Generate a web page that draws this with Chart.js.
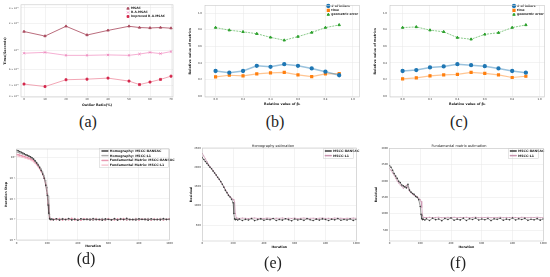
<!DOCTYPE html>
<html><head><meta charset="utf-8">
<script src="https://cdn.jsdelivr.net/npm/chart.js@4/dist/chart.umd.min.js"></script>
<style>
html,body{margin:0;padding:0;background:#fff;width:550px;height:277px;overflow:hidden;}
.box{position:absolute;}
.box canvas{display:block;}
.cap{position:absolute;font-family:"Liberation Serif","DejaVu Serif",serif;font-size:16px;color:#222;transform:translate(-50%,-50%);white-space:nowrap;line-height:1;}
</style></head><body>
<div class="box" style="left:0px;top:0px"><canvas id="ca" width="180" height="112"></canvas></div>
<div class="box" style="left:185px;top:0px"><canvas id="cb" width="180" height="112"></canvas></div>
<div class="box" style="left:370px;top:0px"><canvas id="cc" width="180" height="112"></canvas></div>
<div class="box" style="left:0px;top:140px"><canvas id="cd" width="180" height="120"></canvas></div>
<div class="box" style="left:185px;top:140px"><canvas id="ce" width="180" height="120"></canvas></div>
<div class="box" style="left:370px;top:140px"><canvas id="cf" width="180" height="120"></canvas></div>
<div class="cap" style="left:88px;top:122px">(a)</div>
<div class="cap" style="left:275px;top:122px">(b)</div>
<div class="cap" style="left:459px;top:122px">(c)</div>
<div class="cap" style="left:86px;top:259px">(d)</div>
<div class="cap" style="left:273px;top:263px">(e)</div>
<div class="cap" style="left:458px;top:263px">(f)</div>
<script>
// ---------- (a) data ----------
const aOutlier = [0,10,20,30,40,50,55,60,65,70];
const aMSAC = [0.162,0.144,0.186,0.148,0.167,0.186,0.180,0.178,0.180,0.177];
const aRAMSAC = [0.092,0.094,0.087,0.087,0.088,0.087,0.090,0.094,0.091,0.096];
const aImproved = [0.0411,0.0385,0.046,0.0467,0.048,0.0444,0.0405,0.0433,0.0464,0.0505];
const aXTicks = [0,10,20,30,40,50,60,70];
const aXLabels = ['0','10','20','30','40','50','60','70'];
const aYTicks = [0.03,0.04,0.06,0.1,0.2,0.3];
const aYLabels = ['3 × 10⁻²','4 × 10⁻²','6 × 10⁻²','10⁻¹','2 × 10⁻¹','3 × 10⁻¹'];

// ---------- (b) data ----------
const bBeta = [0.0,0.1,0.2,0.3,0.4,0.5,0.6,0.7,0.8,0.9];
const bInliers = [0.302,0.282,0.302,0.365,0.353,0.385,0.365,0.333,0.294,0.251];
const bTime = [0.232,0.251,0.244,0.267,0.279,0.286,0.255,0.235,0.267,0.271];
const bGeoErr = [0.827,0.796,0.776,0.753,0.709,0.674,0.718,0.768,0.827,0.859];

// ---------- (c) data ----------
const cBeta = [0.0,0.1,0.2,0.3,0.4,0.5,0.6,0.7,0.8,0.9];
const cInliers = [0.302,0.314,0.345,0.357,0.385,0.373,0.361,0.333,0.302,0.282];
const cTime = [0.208,0.220,0.244,0.255,0.262,0.286,0.274,0.255,0.224,0.239];
const cGeoErr = [0.827,0.835,0.796,0.776,0.706,0.686,0.745,0.765,0.827,0.859];

const bcTicks = [0,0.2,0.4,0.6,0.8,1.0];
const bcLabels = ['0.0','0.2','0.4','0.6','0.8','1.0'];

// ---------- (d)(e)(f) iterations ----------
const iters = [0,10,20,30,40,50,60,70,80,90,100,110,120,130,140,150,160,170,180,190,200,205,210,215,220,230,240,
  260,280,300,320,340,360,380,400,420,440,460,480,500,520,540,560,580,600,620,640,660,680,700,720,740,760,780,800,820,840,860,880,900,920,940,960,980,1000];
const iterTicks = [0,200,400,600,800,1000];
const iterLabels = ['0','200','400','600','800','1000'];

// (d) iteration step
const dHomRansac = [2.3,2.15,2.0,1.85,1.7,1.55,1.4,1.3,1.2,1.1,1.0,0.85,0.7,0.56,0.44,0.33,0.24,0.16,0.1,0.045,0.015,0.005,0.002,0.0011,0.98e-3,1.05e-3,
  0.96e-3,1.08e-3,0.93e-3,1.04e-3,0.99e-3,1.11e-3,0.95e-3,1.02e-3,0.91e-3,1.07e-3,0.98e-3,1.03e-3,0.94e-3,1.1e-3,0.97e-3,1.01e-3,0.92e-3,1.06e-3,1.0e-3,0.95e-3,
  1.09e-3,0.93e-3,1.04e-3,0.98e-3,1.12e-3,0.96e-3,1.01e-3,0.94e-3,1.07e-3,0.99e-3,1.03e-3,0.92e-3,1.08e-3,0.97e-3,1.02e-3,0.95e-3,1.1e-3,0.98e-3,1.04e-3];
const dHomL1 = [1.9,1.8,1.7,1.6,1.5,1.42,1.34,1.26,1.18,1.08,0.97,0.85,0.72,0.6,0.48,0.37,0.28,0.2,0.13,0.075,0.035,0.014,0.005,0.0018,0.0011,1.02e-3,
  0.95e-3,1.07e-3,0.99e-3,1.1e-3,0.94e-3,1.03e-3,0.97e-3,1.09e-3,0.93e-3,1.05e-3,1.0e-3,0.96e-3,1.08e-3,0.92e-3,1.04e-3,0.98e-3,1.11e-3,0.95e-3,1.02e-3,0.97e-3,
  1.06e-3,0.94e-3,1.09e-3,1.0e-3,0.96e-3,1.05e-3,0.93e-3,1.08e-3,0.99e-3,1.03e-3,0.95e-3,1.1e-3,0.97e-3,1.01e-3,0.94e-3,1.07e-3,0.98e-3,1.04e-3,0.96e-3];
const dFunRansac = [1.45,1.4,1.33,1.27,1.2,1.14,1.08,1.02,0.96,0.9,0.83,0.73,0.62,0.5,0.4,0.31,0.23,0.16,0.1,0.05,0.018,0.006,0.0022,0.0012,1.0e-3,0.97e-3,
  1.04e-3,0.96e-3,1.09e-3,0.93e-3,1.02e-3,0.98e-3,1.12e-3,0.95e-3,1.01e-3,0.92e-3,1.07e-3,0.99e-3,1.05e-3,0.94e-3,1.1e-3,0.97e-3,1.03e-3,0.91e-3,1.08e-3,1.0e-3,
  0.95e-3,1.06e-3,0.98e-3,1.11e-3,0.93e-3,1.02e-3,0.96e-3,1.09e-3,0.94e-3,1.04e-3,0.99e-3,1.07e-3,0.92e-3,1.03e-3,0.97e-3,1.1e-3,0.95e-3,1.01e-3,1.06e-3];
const dFunL1 = [1.25,1.2,1.15,1.1,1.05,1.0,0.95,0.9,0.85,0.79,0.72,0.63,0.54,0.45,0.36,0.28,0.21,0.15,0.1,0.06,0.025,0.009,0.0032,0.0014,1.04e-3,1.0e-3,
  0.98e-3,1.05e-3,0.95e-3,1.08e-3,1.0e-3,0.94e-3,1.06e-3,0.97e-3,1.03e-3,0.93e-3,1.09e-3,0.99e-3,1.04e-3,0.96e-3,1.07e-3,0.92e-3,1.02e-3,0.98e-3,1.1e-3,0.95e-3,
  1.01e-3,0.97e-3,1.06e-3,0.94e-3,1.08e-3,1.0e-3,0.96e-3,1.04e-3,0.93e-3,1.07e-3,0.99e-3,1.03e-3,0.95e-3,1.09e-3,0.97e-3,1.02e-3,0.94e-3,1.05e-3,1.0e-3];
const dYTicks = [1e-4,1e-3,1e-2,1e-1,1];
const dYLabels = ['10⁻⁴','10⁻³','10⁻²','10⁻¹','10⁰'];

// (e) homography residual
const eRansac = [2250,2200,2150,2100,2050,2000,1960,1900,1850,1800,1740,1690,1630,1560,1480,1400,1340,1270,1230,1170,1080,800,660,640,650,630,
  655,620,648,632,668,615,642,660,625,650,636,671,618,645,628,662,640,612,657,633,649,622,666,638,617,653,629,660,644,619,651,635,667,624,646,631,658,621,648];
const eL1 = [2360,2290,2220,2150,2080,2020,1970,1920,1860,1790,1730,1680,1620,1560,1500,1420,1360,1290,1250,1200,1170,1150,1100,800,690,678,
  672,680,674,669,678,683,671,676,670,681,675,668,679,673,684,670,677,672,680,666,676,682,671,674,679,669,677,683,672,675,670,681,674,678,668,676,673,680,675];
const eYTicks = [500,1000,1500,2000,2500];
const eYLabels = ['500','1000','1500','2000','2500'];

// (f) fundamental matrix residual
const fRansac = [2470,2420,2330,2230,2150,2080,1990,1950,1880,1850,1820,1790,1900,1720,1660,1620,1590,1530,1500,1430,1220,980,850,820,830,810,
  845,795,862,818,840,788,856,825,870,802,834,811,859,792,848,823,866,806,838,815,852,790,843,828,861,800,836,817,868,809,845,822,857,797,833,813,850,804,841];
const fL1 = [2380,2330,2250,2180,2090,2000,1940,1880,1840,1780,1840,1870,1800,1690,1640,1600,1560,1540,1520,1480,1430,1380,1200,950,880,885,
  882,890,879,886,893,878,884,889,881,892,876,887,883,891,880,885,894,877,888,882,890,879,886,884,893,878,887,881,889,883,876,891,885,880,888,882,894,879,886];
const fYTicks = [500,1000,1500,2000,2500,3000];
const fYLabels = ['500','1000','1500','2000','2500','3000'];

// ---------- helpers ----------
const FONT = '"DejaVu Sans", sans-serif';
Chart.defaults.font.family = FONT;
Chart.defaults.color = '#333';

const framePlugin = {
  id: 'frame',
  beforeDatasetsDraw(chart, args, o) {
    if (!o || !o.color) return;
    const a = chart.chartArea, ctx = chart.ctx;
    ctx.save();
    ctx.strokeStyle = o.color; ctx.lineWidth = o.width || 0.6;
    ctx.strokeRect(a.left, a.top, a.right - a.left, a.bottom - a.top);
    ctx.restore();
  },
  afterDatasetsDraw(chart, args, o) {
    if (!o || !o.legendFrame) return;
    const f = o.legendFrame, ctx = chart.ctx;
    ctx.save();
    ctx.strokeStyle = o.legendColor || '#ccc'; ctx.lineWidth = 0.5;
    ctx.strokeRect(f[0], f[1], f[2], f[3]);
    ctx.restore();
  }
};
const legendMover = {
  id: 'legendMover',
  afterLayout(chart, args, o) {
    const L = chart.legend;
    if (!L || !o || o.x == null) return;
    const w = L.width, h = L.height;
    L.left = o.x - o.pad; L.right = L.left + w;
    L.top = o.y - o.pad - o.fs / 2; L.bottom = L.top + h;
  }
};
Chart.register(framePlugin, legendMover);

function pts(xs, ys) {
  const n = Math.min(xs.length, ys.length), out = [];
  for (let i = 0; i < n; i++) out.push({x: xs[i], y: ys[i]});
  return out;
}
function mkScale(o, horiz) {
  return {
    type: o.type || 'linear', min: o.min, max: o.max,
    afterBuildTicks: s => { s.ticks = o.ticks.map(v => ({value: v})); },
    afterFit: s => { if (horiz) s.height = o.size; else s.width = o.size; },
    grid: {color: o.grid || '#e6e6e6', lineWidth: 0.5, drawTicks: false},
    border: {display: false},
    ticks: {autoSkip: false, maxRotation: 0, minRotation: 0, padding: o.tp, color: '#333',
      font: {size: o.fs || 2.6}, callback: (v, i) => o.labels[i]},
    title: {display: true, text: o.title, padding: 0, color: '#111',
      font: {size: o.tfs || 3.3, weight: 'bold'}}
  };
}
function legendOpts(fs, pad, pointStyle, bw, bh) {
  const labels = {font: {size: fs, weight: 'bold'}, color: '#222', padding: pad};
  if (pointStyle) { labels.usePointStyle = true; labels.boxHeight = bh; labels.boxWidth = bw; }
  else { labels.boxWidth = bw; labels.boxHeight = bh; }
  return {display: true, position: 'chartArea', align: 'start', labels};
}
const base = {responsive: false, animation: false, events: []};

// ---------- (a) ----------
new Chart(document.getElementById('ca'), {
  type: 'line',
  data: {datasets: [
    {label: 'MSAC', data: pts(aOutlier, aMSAC), borderColor: '#a8475c', backgroundColor: '#a8475c',
      pointBackgroundColor: '#a8475c', pointBorderColor: '#a8475c', pointStyle: 'triangle', pointRadius: 1.4, borderWidth: 0.8},
    {label: 'R-A-MSAC', data: pts(aOutlier, aRAMSAC), borderColor: '#f29ac8', backgroundColor: '#f29ac8',
      pointBackgroundColor: '#ee7fba', pointBorderColor: '#ee7fba', pointStyle: 'crossRot', pointRadius: 1.6, pointBorderWidth: 0.8, borderWidth: 0.8},
    {label: 'Improved R-A-MSAC', data: pts(aOutlier, aImproved), borderColor: '#ef8fa2', backgroundColor: '#d4284c',
      pointBackgroundColor: '#d4284c', pointBorderColor: '#d4284c', pointStyle: 'rect', pointRadius: 1.4, borderWidth: 0.8}
  ]},
  options: Object.assign({}, base, {
    layout: {padding: {left: 3.2, top: 3, right: 7, bottom: 5.3}},
    scales: {
      x: mkScale({min: -1.43, max: 70.95, ticks: aXTicks, labels: aXLabels, size: 9.7, tp: 1, title: 'Outlier Ratio(%)'}, true),
      y: mkScale({type: 'logarithmic', min: 0.0293, max: 0.326, ticks: aYTicks, labels: aYLabels, size: 17.8, tp: 2, fs: 2.3, title: 'Time(Seconds)'}, false)
    },
    plugins: {legend: legendOpts(3, 1, true, 3, 2), tooltip: {enabled: false},
      legendMover: {x: 126.5, y: 8.5, pad: 1, fs: 3}, frame: {color: '#c8c8c8', width: 0.6}}
  })
});

// ---------- (b) & (c) ----------
function bcChart(id, xs, inl, tim, geo, sub, xmin, xmax, lx) {
  new Chart(document.getElementById(id), {
    type: 'line',
    data: {datasets: [
      {label: '# of inliers', data: pts(xs, inl), borderColor: 'rgba(31,119,180,0.45)', backgroundColor: '#1f77b4',
        pointBackgroundColor: '#1f77b4', pointBorderColor: '#1f77b4', pointStyle: 'circle', pointRadius: 1.4, borderWidth: 1.5},
      {label: 'time', data: pts(xs, tim), borderColor: 'rgba(255,127,14,0.45)', backgroundColor: '#ff7f0e',
        pointBackgroundColor: '#ff7f0e', pointBorderColor: '#ff7f0e', pointStyle: 'rect', pointRadius: 1.4, borderWidth: 1.2},
      {label: 'geometric error', data: pts(xs, geo), borderColor: 'rgba(44,160,44,0.55)', backgroundColor: '#2ca02c',
        pointBackgroundColor: '#2ca02c', pointBorderColor: '#2ca02c', pointStyle: 'triangle', pointRadius: 1.4, borderWidth: 1, borderDash: [2, 1]}
    ]},
    options: Object.assign({}, base, {
      layout: {padding: {left: 3.3, top: 3, right: 4.3, bottom: 5.6}},
      scales: {
        x: mkScale({min: xmin, max: xmax, ticks: bcTicks, labels: bcLabels, size: 9.4, tp: 1, title: 'Relative value of ' + sub}, true),
        y: mkScale({min: -0.012, max: 1.094, ticks: bcTicks, labels: bcLabels, size: 16.7, tp: 3, title: 'Relative value of metrics'}, false)
      },
      plugins: {legend: legendOpts(3, 1.3, true, 3, 2), tooltip: {enabled: false},
        legendMover: {x: lx, y: 6, pad: 1.3, fs: 3}, frame: {color: '#c8c8c8', width: 0.6}}
    })
  });
}
bcChart('cb', bBeta, bInliers, bTime, bGeoErr, 'β₁', -0.077, 1.048, 141.8);
bcChart('cc', cBeta, cInliers, cTime, cGeoErr, 'β₂', -0.092, 1.036, 142.5);

// ---------- (d) ----------
function smallDs(label, ys, color, r, bw) {
  return {label, data: pts(iters, ys), borderColor: color, backgroundColor: color,
    pointBackgroundColor: color, pointBorderColor: color, pointRadius: r, pointBorderWidth: 0, borderWidth: bw};
}
new Chart(document.getElementById('cd'), {
  type: 'line',
  data: {datasets: [
    smallDs('Homography: MSCC-RANSAC', dHomRansac, '#3c3c3c', 0.8, 0.5),
    smallDs('Homography: MSCC-L1', dHomL1, '#a0a0a0', 0.8, 0.5),
    smallDs('Fundamental Matrix: MSCC-RANSAC', dFunRansac, '#e58aa6', 0.8, 0.5),
    smallDs('Fundamental Matrix: MSCC-L1', dFunL1, '#f5c2cf', 0.8, 0.5)
  ]},
  options: Object.assign({}, base, {
    layout: {padding: {left: 4.6, top: 9, right: 10.5, bottom: 11.9}},
    scales: {
      x: mkScale({min: 0, max: 1000, ticks: iterTicks, labels: iterLabels, size: 8.1, tp: 1.8, tfs: 3.2, title: 'Iteration'}, true),
      y: mkScale({type: 'logarithmic', min: 1e-4, max: 2.65, ticks: dYTicks, labels: dYLabels, size: 12.1, tp: 1.5, tfs: 3.2, title: 'Iteration Step'}, false)
    },
    plugins: {legend: legendOpts(3.2, 1.5, false, 6.5, 0.8), tooltip: {enabled: false},
      legendMover: {x: 101.7, y: 11, pad: 1.5, fs: 3.2},
      frame: {color: '#c8c8c8', width: 0.6, legendFrame: [99.5, 8.6, 69, 18.8]}}
  })
});

// ---------- (e) & (f) ----------
function resChart(id, r, l, title, ymin, ymax, yt, yl, ywidth, padRight, titlePadB) {
  new Chart(document.getElementById(id), {
    type: 'line',
    data: {datasets: [
      smallDs('MSCC-RANSAC', r, '#3a3a3a', 0.8, 0.5),
      smallDs('MSCC-L1', l, '#c48aa8', 0.5, 0.6)
    ]},
    options: Object.assign({}, base, {
      layout: {padding: {left: 4.6, top: 0, right: padRight, bottom: 10.6}},
      scales: {
        x: mkScale({min: 0, max: 1000, ticks: iterTicks, labels: iterLabels, size: 8.4, tp: 0.9, tfs: 3.2, title: 'Iteration'}, true),
        y: mkScale({min: ymin, max: ymax, ticks: yt, labels: yl, size: ywidth, tp: 1.5, tfs: 3.2, title: 'Residual'}, false)
      },
      plugins: {
        title: {display: true, text: title, color: '#222', font: {size: 3.5, weight: 'normal'}, padding: {top: 3.6, bottom: titlePadB}},
        legend: legendOpts(3.2, 1.5, false, 6.5, 0.8), tooltip: {enabled: false},
        legendMover: {x: 140, y: 11, pad: 1.5, fs: 3.2},
        frame: {color: '#c8c8c8', width: 0.6, legendFrame: [138.3, 8.8, 30, 9.6]}
      }
    })
  });
}
resChart('ce', eRansac, eL1, 'Homography estimation', 86, 2500, eYTicks, eYLabels, 12.7, 8.7, 0.2);
resChart('cf', fRansac, fL1, 'Fundamental matrix estimation', 166, 3000, fYTicks, fYLabels, 14.9, 6.7, 0.5);
</script>
</body></html>
